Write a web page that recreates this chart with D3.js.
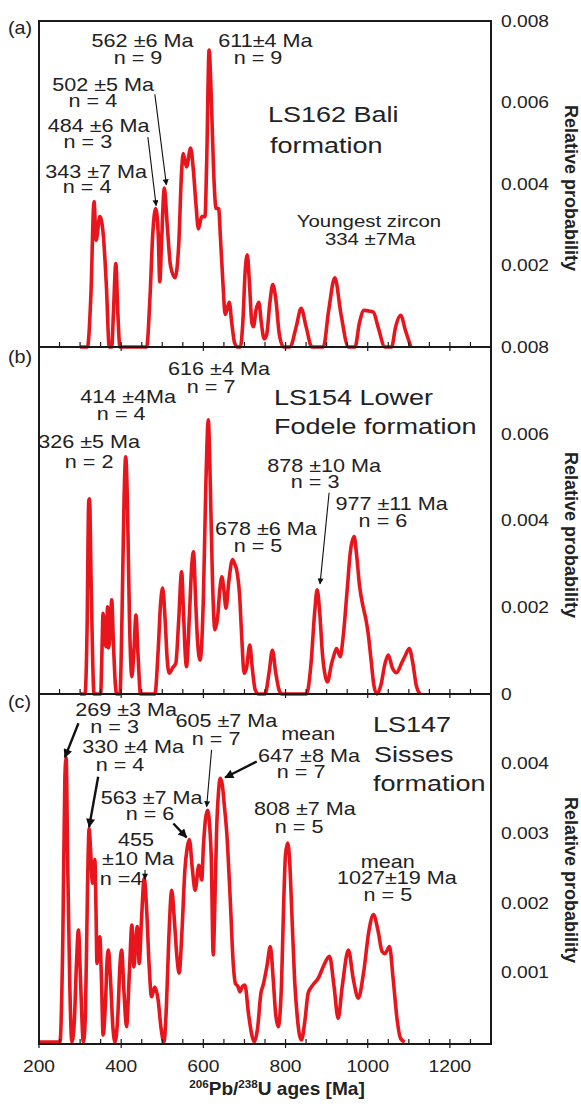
<!DOCTYPE html>
<html>
<head>
<meta charset="utf-8">
<script src="https://cdnjs.cloudflare.com/ajax/libs/d3/7.8.5/d3.min.js"></script>
<style>
body{margin:0;background:#fff}
text{font-family:"Liberation Sans",Arial,sans-serif;fill:#222}
</style>
</head>
<body>
<svg id="svg" width="581" height="1104"></svg>
<script>
// probability density curves, [age Ma, relative probability]
var ls162=[[300,0],[318,0],[326,0.0012],[334,0.00357],[339,0.00262],[348,0.0032],[356,0.0028],[364,0.0015],[371,0],[377,0],[381,0.0008],[387,0.00205],[392,0.0008],[397,0],
  [462,0],[470,0.0012],[477,0.0028],[484,0.0034],[490,0.0028],[494,0.0016],[498,0.0025],[505,0.0039],[512,0.003],[520,0.002],[531,0.0017],[540,0.0025],[547,0.0043],[551,0.00475],[559,0.00442],[569,0.00488],[576,0.0043],[582,0.0035],[588,0.0029],[596,0.0032],[604,0.0032],[608,0.0045],[614,0.00729],[619,0.0062],[625,0.0043],[631,0.0034],[637,0.0034],[642,0.0026],[648,0.0015],[653,0.0008],[657,0.0009],[663,0.0011],[669,0.0006],[676,0.0001],[683,0],
  [690,0],[696,0.0006],[702,0.0019],[707,0.00226],[712,0.0016],[718,0.0006],[722,0.0005],[728,0.0009],[735,0.0011],[741,0.0006],[748,0.0002],[754,0.0003],[762,0.0011],[769,0.00153],[776,0.0012],[785,0.0003],[795,0],
  [811,0],[826,0.0005],[838,0.00095],[850,0.0005],[864,0],[892,0],[905,0.0009],[920,0.0017],[935,0.0008],[953,0],[969,0],[980,0.0006],[991,0.0009],[1005,0.00088],[1014,0.00085],[1025,0.0005],[1042,0],[1058,0],[1068,0.0005],[1080,0.00078],[1092,0.0004],[1105,0]];

var ls154=[[300,0],[312,0],[317,0.0015],[321,0.00445],[323,0.0045],[327,0.0025],[334,0],[350,0],[353,0.0009],[356,0.00186],[361,0.0012],[363,0.00109],[367,0.00201],[369,0.00106],[373,0.0014],[377,0.00217],[381,0.0012],[386,0.0002],[389,0],
  [397,0],[402,0.0018],[407,0.0045],[411,0.00547],[415,0.0045],[420,0.0018],[426,0.0004],[431,0.001],[436,0.00182],[441,0.0009],[447,0],
  [482,0],[490,0.001],[496,0.0021],[501,0.00244],[507,0.0017],[512,0.0008],[517,0.00048],[525,0.0006],[533,0.00071],[540,0.0017],[547,0.00282],[552,0.0018],[556,0.0009],[559,0.00063],[566,0.0018],[572,0.003],[576,0.00328],[581,0.0022],[586,0.0012],[592,0.00078],[600,0.0022],[606,0.0048],[612,0.00632],[617,0.0048],[622,0.0027],[628,0.00148],[635,0.0018],[640,0.0024],[645,0.0027],[650,0.0024],[655,0.00198],[662,0.0026],[671,0.0031],[676,0.003],[681,0.00286],[688,0.0023],[694,0.0012],[699,0.00048],[705,0.0006],[713,0.00113],[719,0.0006],[726,0.0001],[734,0],
  [750,0],[760,0.0005],[768,0.00101],[776,0.0005],[784,0.0001],[791,0],[851,0],[862,0.0007],[871,0.0019],[877,0.0024],[883,0.0019],[890,0.0009],[897,0.0004],[902,0.00028],[912,0.0007],[918,0.0009],[924,0.00105],[933,0.00086],[940,0.0013],[950,0.0024],[958,0.0033],[967,0.00363],[973,0.0032],[980,0.0025],[989,0.002],[996,0.0017],[1001,0.0014],[1008,0.0008],[1015,0.0002],[1022,0],
  [1032,0.0002],[1042,0.0007],[1050,0.0009],[1060,0.0006],[1070,0.00049],[1082,0.0007],[1092,0.0009],[1101,0.00105],[1110,0.0007],[1118,0.0002],[1127,0]];

var ls147=[[200,0],[251,0],[258,0.0015],[263,0.0038],[266,0.00408],[270,0.0025],[275,0.0008],[280,0],[286,0.0003],[291,0.0011],[296,0.00161],[301,0.0009],[308,0],[313,0.0004],[318,0.0022],[322,0.00307],[326,0.0027],[330,0.00228],[336,0.00262],[339,0.0018],[341,0.00113],[344,0.0013],[348,0.00151],[352,0.0009],[356,0.0001],[362,0.0006],[366,0.0012],[369,0.00132],[374,0.0009],[380,0.0002],[385,0],
  [392,0.0004],[397,0.0011],[401,0.00132],[407,0.0007],[413,0.00022],[420,0.001],[426,0.00168],[431,0.00108],[435,0.0014],[439,0.00166],[444,0.00113],[449,0.0017],[456,0.00235],[462,0.0019],[468,0.0011],[474,0.00065],[482,0.00079],[490,0.0006],[497,0.0002],[504,0],
  [510,0.0005],[516,0.0015],[523,0.00218],[530,0.0017],[536,0.0012],[541,0.00099],[548,0.0016],[555,0.00247],[561,0.0028],[566,0.00291],[573,0.0025],[580,0.00218],[589,0.00254],[596,0.00233],[600,0.0028],[610,0.00333],[619,0.0027],[624,0.00125],[628,0.002],[632,0.003],[637,0.0036],[641,0.00379],[646,0.0037],[651,0.0034],[657,0.003],[665,0.0021],[673,0.0011],[678,0.00084],[684,0.0008],[689,0.00072],[695,0.0008],[701,0.00082],[710,0.0004],[718,0.0001],[724,0],
  [732,0.0002],[740,0.0007],[746,0.00083],[755,0.0011],[763,0.00137],[770,0.0009],[776,0.0004],[782,0.00022],[790,0.0008],[795,0.0019],[800,0.0027],[805,0.00286],[810,0.0026],[815,0.0019],[822,0.0009],[828,0.0004],[834,0.0001],[839,0.00003],
  [847,0.0003],[855,0.0007],[864,0.0008],[880,0.00092],[893,0.0011],[907,0.00123],[918,0.0008],[928,0.00034],[938,0.0008],[953,0.00132],[965,0.0009],[977,0.00063],[990,0.001],[1003,0.0016],[1014,0.00183],[1025,0.0016],[1035,0.0013],[1042,0.00127],[1053,0.00137],[1062,0.0009],[1072,0.0003],[1080,0.00005],[1090,0]];

// tick labels
var xTickLabels=[200,400,600,800,1000,1200];
var yTicksA=[0.002,0.004,0.006,0.008];
var yTicksB=[0,0.002,0.004,0.006,0.008];
var yTicksC=[0.001,0.002,0.003,0.004];

// annotations: [text, age, probability]
var notesA=[["562 ±6 Ma",452,0.00737],["n = 9",441,0.00694],["611±4 Ma",751,0.00737],["n = 9",733,0.00694],
  ["502 ±5 Ma",356,0.00628],["n = 4",331,0.00589],["484 ±6 Ma",345,0.00528],["n = 3",319,0.00489],
  ["343 ±7 Ma",339,0.00415],["n = 4",317,0.00378]];
var notesB=[["616 ±4 Ma",638,0.00735],["n = 7",619,0.00694],["414 ±4Ma",417,0.00671],["n = 4",400,0.00632],
  ["326 ±5 Ma",322,0.00566],["n = 2",322,0.00522],["678 ±6 Ma",752,0.00366],["n = 5",733,0.00328],
  ["878 ±10 Ma",894,0.00512],["n = 3",872,0.00475],["977 ±11 Ma",1058,0.00424],["n = 6",1037,0.00386]];
var notesC=[["269 ±3 Ma",412,0.00468],["n = 3",384,0.00444],["330 ±4 Ma",429,0.00415],["n = 4",397,0.0039],
  ["605 ±7 Ma",656,0.00452],["n = 7",631,0.00427],["mean",855,0.00434],["647 ±8 Ma",857,0.00403],["n = 7",838,0.00379],
  ["563 ±7 Ma",474,0.00342],["n = 6",470,0.00319],["455",436,0.00281],["±10 Ma",441,0.00254],["n =4",400,0.00226],
  ["808 ±7 Ma",847,0.00326],["n = 5",833,0.00301],["mean",1049,0.0025],["1027±19 Ma",1071,0.00227],["n = 5",1049,0.00202]];
var youngest=[["Youngest zircon",1003,0.00295],["334 ±7Ma",1006,0.0025]];

// sample names, left aligned: [text, age, probability]
var titleA=[["LS162 Bali",757,0.00553],["formation",762,0.00476]];
var titleB=[["LS154 Lower",772,0.00666],["Fodele formation",772,0.00599]];
var titleC=[["LS147",1013,0.00446],["Sisses",1015,0.00403],["formation",1013,0.0036]];

// arrows: [fromAge, fromProb, toAge, toProb, heavy]
var arrowsA=[[482,0.0062,510,0.00398,0],[465,0.00515,485,0.00347,0]];
var arrowsB=[[906,0.00464,884,0.00254,0]];
var arrowsC=[[296,0.00458,263,0.00409,1],[344,0.00381,322,0.00309,1],[620,0.0042,608,0.00338,0],
  [730,0.00403,653,0.0038,1],[527,0.00314,559,0.00294,1],[458,0.00247,458,0.00234,0]];

var SX=1.2; // the source lettering is drawn a bit wide
var svg=d3.select("#svg");
svg.append("rect").attr("width",581).attr("height",1104).attr("fill","#fff");

var defs=svg.append("defs");
[["thin",7,6],["heavy",11,9]].forEach(function(m){
  defs.append("marker").attr("id",m[0]).attr("viewBox","0 0 10 10")
    .attr("refX",9).attr("refY",5).attr("markerUnits","userSpaceOnUse")
    .attr("markerWidth",m[1]).attr("markerHeight",m[2]).attr("orient","auto")
    .append("path").attr("d","M0,0L10,5L0,10z").attr("fill","#111");
});

var x=d3.scaleLinear().domain([200,1300]).range([39,491]);

var panels=[
  {data:ls162,top:21,zero:347,bottom:347,max:0.008,ticks:yTicksA,notes:notesA,title:titleA,arrows:arrowsA,tag:"(a)",tagY:34,labelY:188},
  {data:ls154,top:347,zero:694,bottom:694,max:0.008,ticks:yTicksB,notes:notesB,title:titleB,arrows:arrowsB,tag:"(b)",tagY:363,labelY:535},
  {data:ls147,top:694,zero:1042,bottom:1044,max:0.005,ticks:yTicksC,notes:notesC,title:titleC,arrows:arrowsC,tag:"(c)",tagY:708,labelY:880}
];

function put(g,px,py,str,size,anchor,sx){
  return g.append("text")
    .attr("transform","translate("+px+","+py+") scale("+(sx||SX)+",1)")
    .attr("text-anchor",anchor||"middle")
    .style("font-size",size+"px")
    .text(str);
}

var line=d3.line().curve(d3.curveMonotoneX);

panels.forEach(function(p,i){
  var y=d3.scaleLinear().domain([0,p.max]).range([p.zero,p.top]);
  var g=svg.append("g");

  g.append("path")
    .attr("d",line.x(function(d){return x(d[0])}).y(function(d){return y(d[1])})(p.data))
    .attr("fill","none").attr("stroke","#e8161c").attr("stroke-width",3.6)
    .attr("stroke-linejoin","round");

  // frame
  g.append("rect").attr("x",x(200)).attr("y",p.top)
    .attr("width",x(1300)-x(200)).attr("height",p.bottom-p.top)
    .attr("fill","none").attr("stroke","#1a1a1a").attr("stroke-width",2);

  // bottom ticks, inside
  g.selectAll(".tk").data(d3.range(200,1301,50)).enter().append("line")
    .attr("x1",function(d){return x(d)}).attr("x2",function(d){return x(d)})
    .attr("y1",p.bottom-5)
    .attr("y2",function(d){return d%200===0?p.bottom+4:p.bottom})
    .attr("stroke","#1a1a1a").attr("stroke-width",1.2);

  // right tick labels
  p.ticks.forEach(function(t){
    put(g,501,y(t),t===0?"0":d3.format(".3f")(t),16,"start").attr("dy","0.36em");
  });

  g.append("text").attr("transform","translate(565,"+p.labelY+") rotate(90)")
    .attr("text-anchor","middle").style("font-size","18px").style("font-weight","bold")
    .text("Relative probability");

  put(g,8,p.tagY,p.tag,18,"start",1.1);

  p.notes.forEach(function(n){ put(g,x(n[1]),y(n[2]),n[0],18); });
  p.title.forEach(function(n){ put(g,x(n[1]),y(n[2]),n[0],22.5,"start"); });
  if(i===0) youngest.forEach(function(n){ put(g,x(n[1]),y(n[2]),n[0],17); });

  p.arrows.forEach(function(a){
    g.append("line")
      .attr("x1",x(a[0])).attr("y1",y(a[1])).attr("x2",x(a[2])).attr("y2",y(a[3]))
      .attr("stroke","#111").attr("stroke-width",a[4]?2.4:1.1)
      .attr("marker-end","url(#"+(a[4]?"heavy":"thin")+")");
  });

  if(i===2){
    xTickLabels.forEach(function(t){ put(g,x(t),1072,t,16); });
    var ttl=g.append("text").attr("transform","translate(277,1095) scale(1.06,1)")
      .attr("text-anchor","middle").style("font-size","18px").style("font-weight","bold");
    ttl.append("tspan").attr("dy",-7).style("font-size","11px").text("206");
    ttl.append("tspan").attr("dy",7).text("Pb/");
    ttl.append("tspan").attr("dy",-7).style("font-size","11px").text("238");
    ttl.append("tspan").attr("dy",7).text("U ages [Ma]");
  }
});
</script>
</body>
</html>
